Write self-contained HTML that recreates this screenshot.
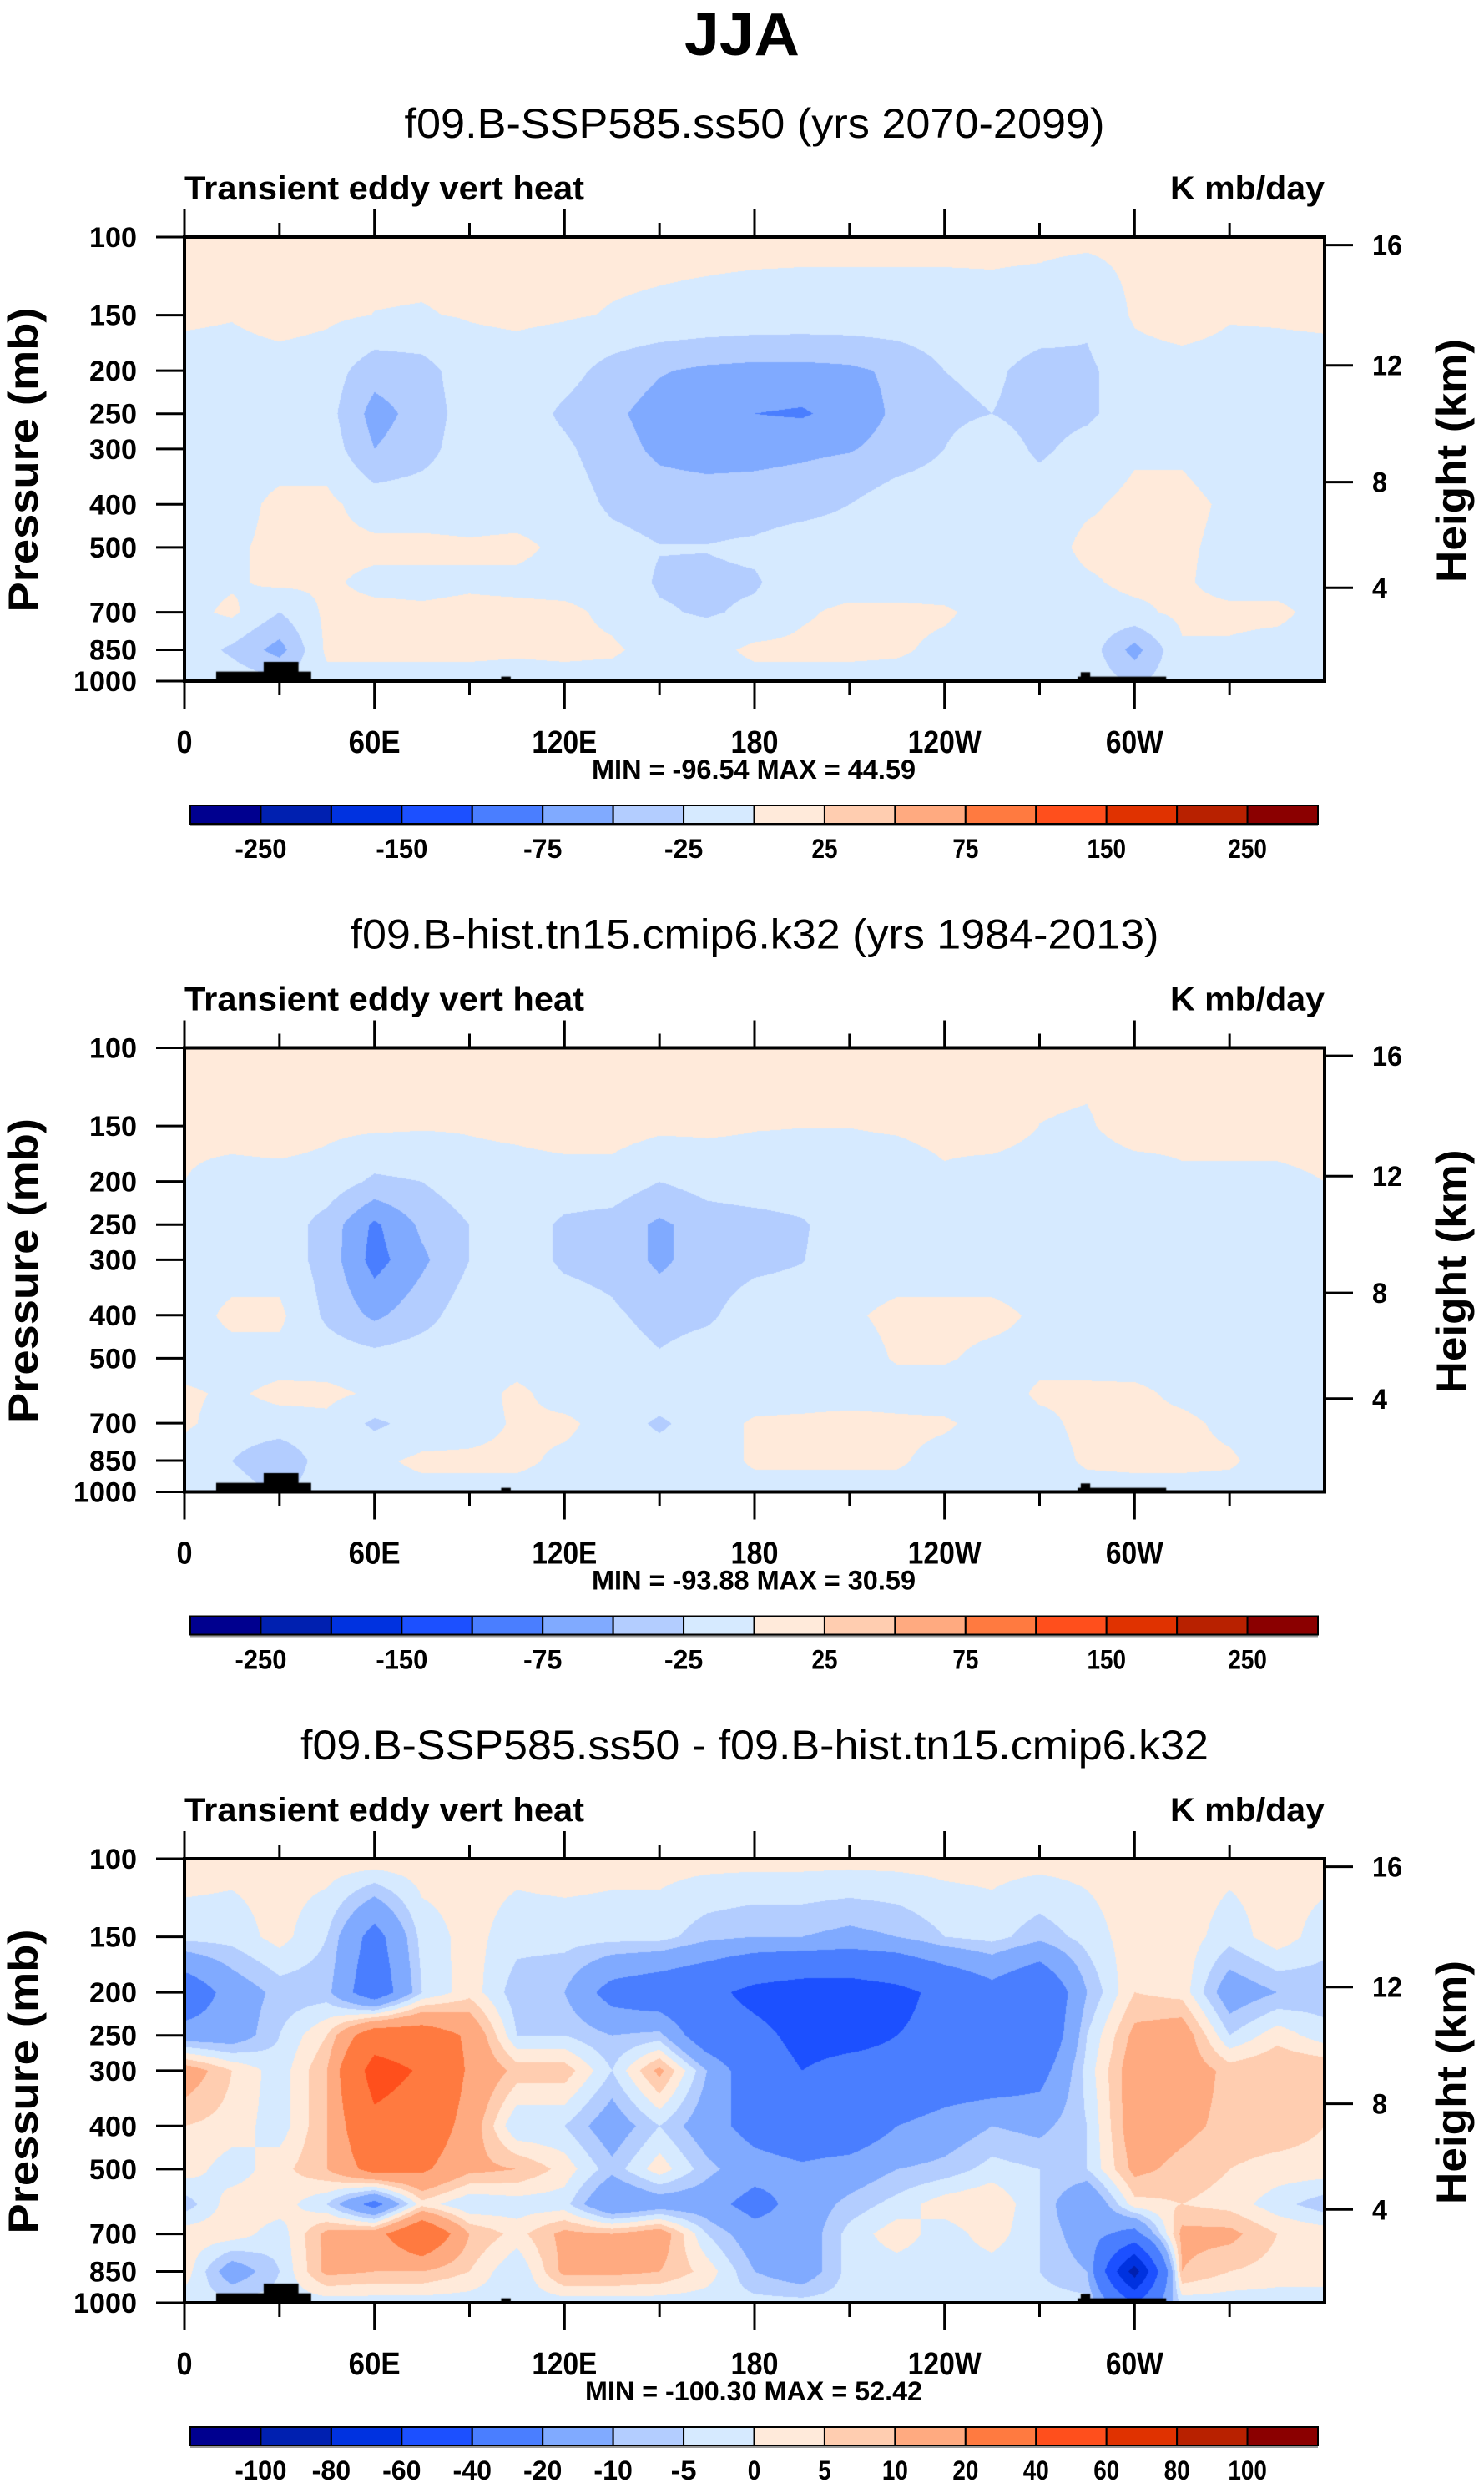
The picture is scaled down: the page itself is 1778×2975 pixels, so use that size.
<!DOCTYPE html>
<html><head><meta charset="utf-8"><title>JJA Transient eddy vert heat</title>
<style>
html,body{margin:0;padding:0;background:#fff;}
body{width:1778px;height:2975px;position:relative;overflow:hidden;font-family:"Liberation Sans",sans-serif;}
canvas{position:absolute;left:221px;}
svg{position:absolute;left:0;top:0;}
</style></head>
<body>
<canvas id="c0" width="1366" height="532" style="top:284px"></canvas>
<canvas id="c1" width="1366" height="532" style="top:1255.5px"></canvas>
<canvas id="c2" width="1366" height="532" style="top:2227px"></canvas>
<svg id="s" width="1778" height="2975" xmlns="http://www.w3.org/2000/svg">
<text x="889" y="66" text-anchor="middle" font-family="Liberation Sans, sans-serif" font-weight="bold" font-size="72" textLength="138" lengthAdjust="spacingAndGlyphs">JJA</text>
</svg>
<script>
// ---- data ----
const lons = [0,15,30,45,60,75,90,105,120,135,150,165,180,195,210,225,240,255,270,285,300,315,330,345,360];
const levels = [100,150,200,250,300,400,500,600,700,850,1000];
const fieldFuture = [
[5,5,5,5,5,5,5,5,5,5,5,5,5,5,5,5,5,5,5,5,5,5,5,5,5],
[4,1.4,9,4,-0.3,-1,1.4,4,2,-1,-3,-5,-7,-8,-8,-8,-8,-7,-10,-20,3,12,2,3,5],
[-10,-10,-10,-12,-40,-35,-10,-10,-15,-35,-48,-55,-58,-58,-55,-45,-25,-20,-35,-30,-10,-10,-10,-10,-10],
[-12,-10,-10,-15,-60,-40,-12,-10,-30,-45,-60,-65,-75,-78,-65,-45,-30,-25,-35,-30,-10,-10,-10,-10,-12],
[-10,-10,-10,-10,-50,-35,-10,-10,-20,-40,-55,-60,-58,-55,-52,-40,-25,-10,-30,-15,-3,-3,-10,-10,-10],
[-5,-8,5,5,-10,-10,-10,-10,-10,-30,-38,-38,-38,-35,-25,-10,-10,-10,-10,-3,5,5,-3,-3,-8],
[-8,-3,5,5,5,5,3,5,-5,-15,-24,-24,-20,-10,-10,-10,-10,-8,-10,5,5,3,-5,-8,-8],
[-8,-3,5,3,-5,-5,-3,-5,-8,-10,-28,-30,-28,-10,-10,-10,-10,-10,-10,-3,5,3,-8,-8,-8],
[-8,5,-25,5,5,3,5,5,5,-5,-22,-28,-20,-3,5,5,3,-8,-10,-8,-5,5,5,5,-8],
[-8,-30,-60,5,5,5,5,3,5,3,-8,-8,5,5,5,3,-5,-8,-10,-10,-60,-3,-3,-8,-8],
[-8,-10,-20,-8,-8,-8,-8,-8,-8,-8,-8,-8,-8,-8,-8,-8,-8,-8,-8,-8,-30,-8,-8,-8,-8]
];
const fieldHist = [
[5,5,5,5,5,5,5,5,5,5,5,5,5,5,5,5,5,5,5,5,5,5,5,5,5],
[5,10,14,5,4,2,2,5,10,10,5,4,1,0.3,0.3,2,5,10,-0.2,-2,8,5,5,5,5],
[0,-10,-10,-10,-30,-25,-10,-10,-10,-10,-25,-15,-10,-10,-10,-10,-3,-10,-10,-10,-10,-3,-3,-3,0],
[-8,-10,-10,-35,-80,-45,-25,-10,-30,-35,-55,-38,-35,-28,-10,-10,-10,-10,-10,-10,-10,-10,-10,-10,-8],
[-8,-10,-10,-35,-85,-55,-25,-10,-30,-35,-55,-38,-32,-26,-10,-10,-10,-10,-10,-10,-10,-10,-10,-10,-8],
[-10,5,5,-30,-55,-35,-10,-10,-10,-20,-35,-30,-10,-10,-3,5,5,5,-3,-10,-10,-10,-10,-10,-10],
[-8,-8,-8,-10,-15,-10,-10,-10,-10,-10,-22,-10,-10,-10,-10,2,2,-5,-5,-5,-10,-10,-10,-10,-10],
[3,-3,5,5,-3,-10,-10,5,-10,-10,-10,-10,-10,-10,-10,-10,-10,-10,3,3,5,-5,-10,-10,-8],
[3,-8,-8,-5,-30,-15,-10,3,5,-10,-30,-10,3,5,8,5,3,-8,-5,5,5,5,-5,-10,-10],
[-8,-25,-50,-8,-5,5,5,5,-5,-10,-10,-10,3,3,3,3,-8,-10,-10,3,5,5,3,-10,-10],
[-8,-8,-30,-8,-8,-8,-8,-8,-8,-8,-8,-8,-8,-8,-8,-8,-8,-8,-8,-8,-8,-8,-8,-8,-8]
];
const fieldDiff = [
[3,2,2,3,4,3,2,2,3,2,2,2,2,2,2,2,2,2,2,2,3,3,2,2,3],
[-3,-3,2,-5,-25,-3,2,-3,-3,-3,-3,-8,-10,-10,-12,-10,-5,-3,-8,-3,3,3,-3,3,-3],
[-30,-15,-8,-8,-30,-5,3,-8,-10,-25,-30,-35,-45,-50,-50,-45,-35,-25,-35,-10,5,3,-15,-10,-8],
[-15,-15,-5,5,30,28,18,-5,-5,-10,-8,-30,-35,-45,-45,-40,-35,-30,-35,-5,12,15,-5,3,-3],
[15,5,-3,10,48,38,18,8,8,-5,12,-10,-30,-40,-35,-35,-30,-30,-25,-3,15,15,8,10,10],
[5,3,-3,10,35,30,15,-5,-5,-15,-5,-15,-25,-30,-30,-20,-15,-10,-12,-5,15,12,8,8,5],
[3,-3,3,10,25,22,12,10,3,-8,3,-8,-15,-18,-15,-10,-8,-3,-5,-5,12,8,5,3,3],
[-8,3,3,-5,-25,3,-5,-3,-3,-20,-15,-15,-25,-15,-8,-3,3,5,-5,-20,3,5,3,-3,-8],
[3,3,-3,12,15,35,10,3,12,10,15,-5,-15,-15,-3,3,-3,3,-5,-15,-25,12,12,5,3],
[3,-15,-5,12,10,10,5,-5,12,12,10,3,-10,-15,-3,-3,-3,-3,-5,-10,-90,10,5,3,3],
[-3,-3,-3,-3,-3,-3,-3,-3,-3,-3,-3,-3,-3,-3,-3,-3,-3,-3,-3,-3,-40,-3,-3,-3,-3]
];
const levelsAbs = [-250,-200,-150,-100,-75,-50,-25,0,25,50,75,100,150,200,250];
const levelsDiff = [-100,-80,-60,-40,-20,-10,-5,0,5,10,20,40,60,80,100];
const labelsAbs = ["-250","","-150","","-75","","-25","","25","","75","","150","","250"];
const labelsDiff = ["-100","-80","-60","-40","-20","-10","-5","0","5","10","20","40","60","80","100"];
const terrainLon0 = [10,25,100,282,283];
const terrainLon1 = [40,36,103,310,286];
const terrainP = [952,905,977,977,955];
const pTicks = [100,150,200,250,300,400,500,700,850,1000];
const zTicks = ["16","12","8","4"];
const zFrac = [0.018,0.289,0.552,0.79];
const lonTicks = [0,60,120,180,240,300];
const lonLabels = ["0","60E","120E","180","120W","60W"];
const minmaxTexts = ["MIN = -96.54  MAX =  44.59","MIN = -93.88  MAX =  30.59","MIN = -100.30  MAX =  52.42"];
const subtitles = ["f09.B-SSP585.ss50 (yrs 2070-2099)","f09.B-hist.tn15.cmip6.k32 (yrs 1984-2013)","f09.B-SSP585.ss50 - f09.B-hist.tn15.cmip6.k32"];
// ---- styling ----
const colors = ["#00008f","#0020b0","#0032e0","#1c50ff","#4a7eff","#80aaff","#b3cdff","#d6eaff","#ffeada","#ffcdb0","#ffaa80","#ff7a40","#ff4f1c","#e03200","#b82100","#8b0000"];
const W=1366,H=532,X0=221,PY=284;
const dys=[0,971.5,1943];
const subW=[839,969,1088];
const mmW=[388,388,404];
const NS="http://www.w3.org/2000/svg";
const svg=document.getElementById('s');
function xOf(l){return X0+W*l/360;}
function yOf(p,dy){return PY+dy+H*Math.log10(p/100);}
function hex(c){return [parseInt(c.substr(1,2),16),parseInt(c.substr(3,2),16),parseInt(c.substr(5,2),16)];}
const rgb=colors.map(hex);
function el(tag,attrs,parent){const e=document.createElementNS(NS,tag);for(const k in attrs)e.setAttribute(k,attrs[k]);(parent||svg).appendChild(e);return e;}
function txt(s,attrs){const e=el('text',Object.assign({'font-family':'Liberation Sans, sans-serif'},attrs));e.textContent=s;return e;}

function drawField(cid,field,lv){
  const cv=document.getElementById(cid),ctx=cv.getContext('2d');
  const img=ctx.createImageData(W,H);
  const lp=levels.map(p=>Math.log10(p));
  for(let py=0;py<H;py++){
    const p=100*Math.pow(10,(py+0.5)/H);const L=Math.log10(p);
    let r=0;while(r<levels.length-2&&L>lp[r+1])r++;
    const t=(L-lp[r])/(lp[r+1]-lp[r]);
    for(let px=0;px<W;px++){
      const lon=(px+0.5)/W*360;let i=Math.min(Math.floor(lon/15),lons.length-2);const s=(lon-lons[i])/15;
      const a=field[r][i]*(1-s)+field[r][i+1]*s,b=field[r+1][i]*(1-s)+field[r+1][i+1]*s;
      const v=a*(1-t)+b*t;
      let k=0;while(k<lv.length&&v>=lv[k])k++;
      const c=rgb[k],o=(py*W+px)*4;img.data[o]=c[0];img.data[o+1]=c[1];img.data[o+2]=c[2];img.data[o+3]=255;
    }
  }
  ctx.putImageData(img,0,0);
  ctx.fillStyle='#000';
  for(let j=0;j<terrainP.length;j++){
    const x0=xOf(terrainLon0[j])-X0,x1=xOf(terrainLon1[j])-X0,y0=yOf(terrainP[j],0)-PY;
    ctx.fillRect(x0,y0,x1-x0,H-y0);
  }
}
drawField('c0',fieldFuture,levelsAbs);
drawField('c1',fieldHist,levelsAbs);
drawField('c2',fieldDiff,levelsDiff);

for(let n=0;n<3;n++){
  const dy=dys[n];
  let t=txt(subtitles[n],{x:904,y:165+dy,'text-anchor':'middle','font-size':50,textLength:subW[n],lengthAdjust:'spacingAndGlyphs'});
  
  
  t=txt('Transient eddy vert heat',{x:221,y:239+dy,'font-size':40,'font-weight':'bold',textLength:479,lengthAdjust:'spacingAndGlyphs'});
  
  
  t=txt('K mb/day',{x:1587,y:239+dy,'text-anchor':'end','font-size':40,'font-weight':'bold',textLength:185,lengthAdjust:'spacingAndGlyphs'});
  
  
  const fr=el('rect',{x:X0,y:PY+dy,width:W,height:H,fill:'none',stroke:'#000','stroke-width':4});
  
  
  for(let l=0;l<360;l+=30){
    const major=l%60===0,x=xOf(l),len=major?33:17;
    let tk=el('line',{x1:x,x2:x,y1:PY+dy+H,y2:PY+dy+H+len,stroke:'#000','stroke-width':3});
    
    
    tk=el('line',{x1:x,x2:x,y1:PY+dy,y2:PY+dy-len,stroke:'#000','stroke-width':3});
    
    
  }
  const lw={"0":19,"60E":62,"120E":78,"180":57,"120W":88,"60W":69};
  lonTicks.forEach((l,i)=>{
    const tl=txt(lonLabels[i],{x:xOf(l),y:902+dy,'text-anchor':'middle','font-size':38,'font-weight':'bold',textLength:lw[lonLabels[i]],lengthAdjust:'spacingAndGlyphs'});
    
    
  });
  pTicks.forEach(p=>{
    const y=yOf(p,dy);
    const tk=el('line',{x1:187,x2:X0,y1:y,y2:y,stroke:'#000','stroke-width':3});
    
    
    const tl=txt(String(p),{x:164,y:y+12,'text-anchor':'end','font-size':34,'font-weight':'bold',textLength:String(p).length*19,lengthAdjust:'spacingAndGlyphs'});
    
    
  });
  zTicks.forEach((z,i)=>{
    const y=PY+dy+H*zFrac[i];
    const tk=el('line',{x1:X0+W,x2:1621,y1:y,y2:y,stroke:'#000','stroke-width':3});
    
    
    const tl=txt(z,{x:1644,y:y+12,'font-size':34,'font-weight':'bold',textLength:z.length*18,lengthAdjust:'spacingAndGlyphs'});
    
    
  });
  t=txt('Pressure (mb)',{x:0,y:0,transform:'translate(45,'+(551+dy)+') rotate(-90)','text-anchor':'middle','font-size':50,'font-weight':'bold',textLength:365,lengthAdjust:'spacingAndGlyphs'});
  
  
  t=txt('Height (km)',{x:0,y:0,transform:'translate(1756,'+(552+dy)+') rotate(-90)','text-anchor':'middle','font-size':50,'font-weight':'bold',textLength:292,lengthAdjust:'spacingAndGlyphs'});
  
  
  t=txt(minmaxTexts[n],{x:903,y:933+dy,'text-anchor':'middle','font-size':32,'font-weight':'bold',textLength:mmW[n],lengthAdjust:'spacingAndGlyphs'});
  
  
  const cx0=228,cw=1351/16,cy=965+dy;
  const sh=el('rect',{x:cx0,y:cy+3,width:1351,height:22,fill:'#999'});
  
  
  for(let k=0;k<16;k++){
    const b=el('rect',{x:cx0+k*cw,y:cy,width:cw,height:22,fill:colors[k],stroke:'#000','stroke-width':2});
    
    
  }
  const lab=n===2?labelsDiff:labelsAbs;
  lab.forEach((s,k)=>{
    if(!s)return;
    const tl=txt(s,{x:cx0+(k+1)*cw,y:1028+dy,'text-anchor':'middle','font-size':32,'font-weight':'bold',textLength:s.length*15.5,lengthAdjust:'spacingAndGlyphs'});
    
    
  });
}
</script>
</body></html>
